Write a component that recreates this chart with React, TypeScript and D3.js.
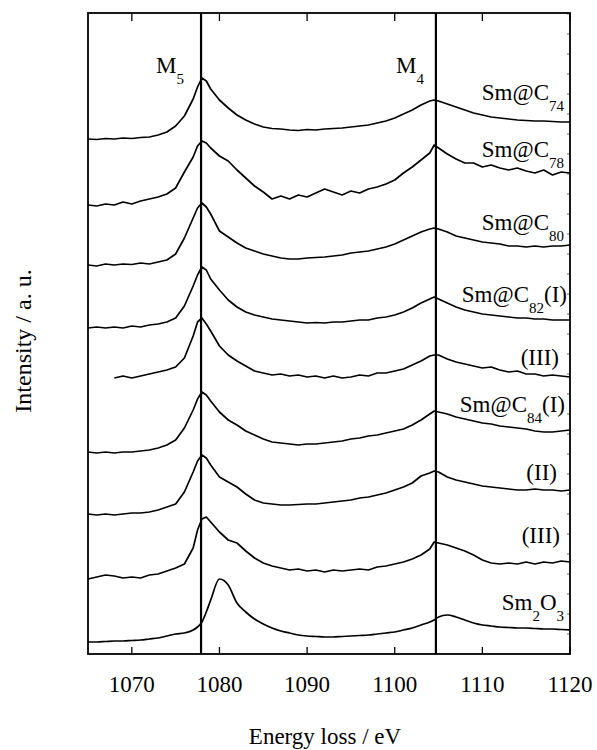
import React from 'react';
import * as d3 from 'd3';

// energy grid (eV) shared by all spectra
const energy = [
  1065, 1066, 1067, 1068, 1069, 1070, 1071, 1072, 1073, 1074, 1075, 1076, 1077,
  1077.5, 1078, 1078.5,
  1079, 1080, 1081, 1082, 1083, 1084, 1085, 1086, 1087, 1088, 1089, 1090, 1091,
  1092, 1093, 1094, 1095, 1096, 1097, 1098, 1099, 1100, 1101, 1102, 1103, 1104,
  1104.5,
  1105, 1106, 1107, 1108, 1109, 1110, 1111, 1112, 1113, 1114, 1115, 1116, 1117,
  1118, 1119, 1120,
];

// stacked intensities (a.u., offsets included)
const smC74 = [
  515, 514.5, 515.5, 515, 516, 515.5, 516.5, 517, 519, 522, 528, 538, 555,
  567, 576, 573,
  565, 554, 546, 539, 534, 530, 527, 525.5, 525, 524, 523.5, 524.5, 524, 525,
  525.5, 526, 527, 528, 529, 531, 533, 536, 540, 544, 549, 553,
  554,
  553, 550, 547, 544, 541, 539, 537, 536, 535, 534, 533.5, 533, 533, 532.5, 532, 532,
];
const smC78 = [
  449, 448, 450, 449, 452, 450, 453, 455, 457, 460, 466, 482, 497,
  508, 513, 511,
  506, 498, 493, 484, 476, 468, 462, 455, 458, 455, 459, 457, 461, 465, 462,
  459, 463, 461, 465, 467, 470, 474, 481, 487, 494, 501,
  509,
  506, 500, 495, 491, 491, 487, 489, 486, 484, 486, 483, 481, 484, 479, 482, 481,
];
const smC80 = [
  389, 388, 390, 389, 390, 389.5, 391, 390, 392, 394, 400, 416, 436,
  446, 451, 447,
  440, 423, 417, 411, 406, 403, 400, 398, 396, 395, 395, 396, 396.5, 397, 398,
  399, 401, 402, 403, 405, 407, 410, 414, 418, 422, 425,
  426,
  425, 422, 418, 416, 414, 412, 411, 410, 408, 408, 407, 408, 407, 408, 408, 409,
];
const smC82I = [
  326, 327, 326, 327, 326, 328, 327, 329, 330, 332, 336, 348, 368,
  379, 387, 384,
  375, 364, 354, 347, 342, 339, 337, 335, 334, 333, 332, 331, 331.5, 331, 332,
  332, 333, 334, 334, 336, 337, 339, 342, 346, 351, 355,
  357,
  355, 351, 347, 344, 342, 340, 339, 338, 337, 336, 336, 335, 335, 334, 334, 334,
];
const smC82III = [
  null, null, null, 276, 278, 276, 278, 280, 282, 284, 287, 296, 318,
  332, 336, 330,
  323, 308, 299, 293, 288, 283, 281, 279, 280, 278, 279, 277, 278, 276, 278,
  276, 277, 279, 278, 281, 281, 283, 285, 289, 293, 298,
  299,
  299, 295, 292, 290, 288, 286, 287, 284, 282, 283, 280, 280, 278, 279, 278, 277,
];
const smC84I = [
  202, 201, 202, 201, 202, 202, 203, 204, 206, 209, 214, 226, 244,
  255, 262, 259,
  253, 242, 234, 229, 223, 219, 215, 212, 211, 210, 209, 210, 210, 211, 212,
  213, 215, 216, 218, 219, 221, 223, 225, 229, 234, 240,
  243,
  242, 240, 237, 235, 233, 231, 230, 228, 227, 226, 225, 223, 222, 222, 223, 224,
];
const smC84II = [
  140, 139, 140, 139, 140, 141, 141, 142, 144, 147, 150, 162, 182,
  193, 199, 196,
  189, 177, 172, 167, 160, 154, 151, 150, 149, 149, 149.5, 150, 150, 151, 152,
  153, 154, 156, 157, 159, 161, 164, 167, 171, 178, 181,
  183,
  182, 177, 174, 172, 170, 168, 167, 166, 165, 164, 164, 165, 164, 164, 163, 164,
];
const smC84III = [
  75, 77, 79, 78, 76, 77, 76, 79, 80, 83, 86, 90, 106,
  124, 135, 137,
  132, 122, 114, 111, 103, 96, 91, 88, 86, 84, 85, 83, 84, 82, 84,
  83, 84, 85, 84, 87, 88, 90, 92, 95, 99, 105,
  112,
  111, 109, 106, 103, 99, 94, 91, 90, 91, 90, 92, 90, 92, 91, 93, 92,
];
const sm2O3 = [
  12, 12, 12.5, 13, 13, 13.5, 14, 15, 16, 18, 20, 21, 24,
  27, 32, 42,
  54, 75, 69, 51, 42, 35, 30, 26, 23, 21, 19, 18, 17.5, 17, 17,
  17.5, 18, 18.5, 19, 20, 21, 22, 24, 26, 29, 32,
  34,
  37, 39, 37, 34, 31, 29, 28, 27, 26.5, 26, 26, 25.5, 25, 25, 24.5, 24,
];

const spectra = [smC74, smC78, smC80, smC82I, smC82III, smC84I, smC84II, smC84III, sm2O3];

// label pieces: [text, subscript?]
const seriesLabels: [string, boolean][][] = [
  [['Sm@C', false], ['74', true]],
  [['Sm@C', false], ['78', true]],
  [['Sm@C', false], ['80', true]],
  [['Sm@C', false], ['82', true], ['(I)', false]],
  [['(III)', false]],
  [['Sm@C', false], ['84', true], ['(I)', false]],
  [['(II)', false]],
  [['(III)', false]],
  [['Sm', false], ['2', true], ['O', false], ['3', true]],
];

// edge positions (eV)
const edges = [1077.9, 1104.7];
const edgeNames = ['5', '4'];

const xTicks = [1070, 1080, 1090, 1100, 1110, 1120];

const App = () => {
  const width = 597;
  const height = 750;
  const left = 88;
  const right = 570;
  const top = 13;
  const bottom = 654;
  const font = '"Liberation Serif", "Times New Roman", serif';

  const x = d3.scaleLinear().domain([1065, 1120]).range([left, right]);
  const y = d3.scaleLinear().domain([0, 641]).range([bottom, top]);

  const line = d3
    .line<number | null>()
    .defined((d) => d != null)
    .x((_, i) => x(energy[i]))
    .y((d) => y(d as number));

  // the oxide reference is a smooth measurement
  const smoothLine = d3
    .line<number | null>()
    .defined((d) => d != null)
    .x((_, i) => x(energy[i]))
    .y((d) => y(d as number))
    .curve(d3.curveMonotoneX);

  // label layout: right edge and baseline
  const labelRight = [564, 564, 564, 567, 559, 565, 557, 560, 564];
  const labelBase = [100, 157, 230, 302, 365, 412, 480, 543, 610];
  const edgeLabelX = [156, 396];

  return (
    <svg
      width={width}
      height={height}
      style={{ position: 'absolute', left: 0, top: 0, background: '#fff' }}
      fontFamily={font}
    >
      {/* spectra */}
      {spectra.map((s, i) => (
        <path
          key={i}
          d={(s === sm2O3 ? smoothLine(s) : line(s)) || ''}
          fill="none"
          stroke="#000"
          strokeWidth={1.7}
          strokeLinejoin="round"
        />
      ))}

      {/* M5 / M4 edge lines */}
      {edges.map((e, i) => (
        <line key={i} x1={x(e)} x2={x(e)} y1={top} y2={bottom} stroke="#000" strokeWidth={2.2} />
      ))}
      {edges.map((e, i) => (
        <text key={i} x={edgeLabelX[i]} y={73} fontSize={23}>
          M
          <tspan dy={11} fontSize={15}>
            {edgeNames[i]}
          </tspan>
        </text>
      ))}

      {/* frame */}
      <rect
        x={left}
        y={top}
        width={right - left}
        height={bottom - top}
        fill="none"
        stroke="#000"
        strokeWidth={1.8}
      />

      {/* x ticks, inside at bottom and top */}
      {xTicks.map((t) => (
        <g key={t}>
          <line x1={x(t)} x2={x(t)} y1={bottom} y2={bottom - 7} stroke="#000" strokeWidth={1.3} />
          <line x1={x(t)} x2={x(t)} y1={top} y2={top + 8} stroke="#000" strokeWidth={1.3} />
          <text x={x(t)} y={692} fontSize={23} textAnchor="middle">
            {t}
          </text>
        </g>
      ))}

      {/* faint minor ticks on right edge */}
      {y.ticks(32).map((t) => (
        <line key={t} x1={right} x2={right - 3} y1={y(t)} y2={y(t)} stroke="#000" strokeWidth={0.6} />
      ))}

      {/* series labels */}
      {seriesLabels.map((parts, i) => (
        <text key={i} x={labelRight[i]} y={labelBase[i]} fontSize={23} textAnchor="end">
          {parts.map(([txt, sub], j) => {
            const prevSub = j > 0 && parts[j - 1][1];
            const dy = sub ? 11 : prevSub ? -11 : 0;
            return (
              <tspan key={j} dy={dy} fontSize={sub ? 15 : 23}>
                {txt}
              </tspan>
            );
          })}
        </text>
      ))}

      {/* axis titles */}
      <text x={(left + right) / 2 - 4} y={744} fontSize={23} textAnchor="middle">
        Energy loss / eV
      </text>
      <text
        transform={`translate(31, 341) rotate(-90)`}
        fontSize={24}
        textAnchor="middle"
      >
        Intensity / a. u.
      </text>
    </svg>
  );
};

export default App;
